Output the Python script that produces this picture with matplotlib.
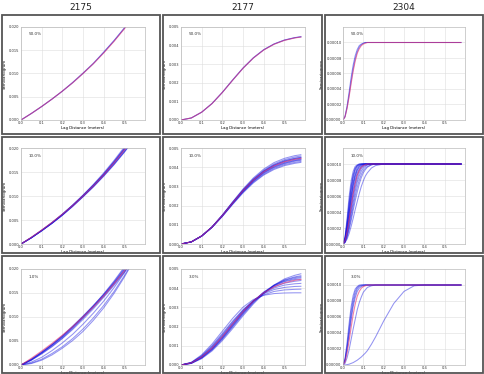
import numpy as np
import matplotlib
matplotlib.use('Agg')
import matplotlib.pyplot as plt
from matplotlib.patches import Rectangle
from matplotlib.ticker import FormatStrFormatter

W, H = 485, 374

wells = ['2175', '2177', '2304']
sample_labels = [['50.0%', '10.0%', '1.0%'],
                 ['50.0%', '10.0%', '3.0%'],
                 ['50.0%', '10.0%', '3.0%']]

# ---- well 2175 (values in 1e-3) ----
lags_2175 = [0, 0.05, 0.1, 0.15, 0.2, 0.25, 0.3, 0.35, 0.4, 0.45, 0.5, 0.55]
ref_2175 = [0, 1.4, 2.9, 4.5, 6.2, 8.0, 10.0, 12.1, 14.4, 16.9, 19.6, 22.5]
fits_2175_50 = [
    [0, 1.4, 2.9, 4.5, 6.2, 8.1, 10.1, 12.2, 14.6, 17.1, 19.8, 22.7],
    [0, 1.4, 2.9, 4.5, 6.2, 8.0, 10.0, 12.1, 14.5, 17.0, 19.7, 22.6],
]
fits_2175_10 = [
    [0, 1.3, 2.8, 4.4, 6.1, 8.0, 10.0, 12.1, 14.4, 16.9, 19.6, 22.5],
    [0, 1.3, 2.8, 4.4, 6.2, 8.1, 10.2, 12.4, 14.8, 17.4, 20.2, 23.2],
    [0, 1.3, 2.8, 4.3, 6.0, 7.9, 9.9, 11.9, 14.1, 16.5, 19.1, 21.9],
    [0, 1.3, 2.8, 4.4, 6.2, 8.1, 10.1, 12.3, 14.6, 17.2, 19.9, 22.9],
    [0, 1.3, 2.7, 4.3, 6.0, 7.9, 9.9, 12.0, 14.3, 16.7, 19.3, 22.1],
    [0, 1.4, 2.9, 4.5, 6.2, 8.1, 10.1, 12.2, 14.5, 17.0, 19.7, 22.6],
    [0, 1.3, 2.8, 4.4, 6.1, 8.0, 10.0, 12.2, 14.5, 17.1, 19.9, 22.8],
    [0, 1.3, 2.8, 4.3, 6.0, 7.8, 9.8, 11.9, 14.2, 16.6, 19.2, 22.0],
]
fits_2175_1 = [
    [0, 1.0, 2.4, 3.9, 5.6, 7.6, 9.8, 12.0, 14.3, 16.8, 19.5, 22.4],
    [0, 1.1, 2.6, 4.2, 6.0, 8.0, 10.1, 12.3, 14.6, 17.1, 19.8, 22.7],
    [0, 1.2, 2.7, 4.3, 6.1, 8.1, 10.2, 12.4, 14.7, 17.3, 20.2, 23.2],
    [0, 1.0, 2.3, 3.8, 5.5, 7.4, 9.5, 11.7, 14.1, 16.6, 19.3, 22.2],
    [0, 1.1, 2.5, 4.1, 5.8, 7.8, 9.9, 12.1, 14.5, 17.1, 19.9, 22.9],
    [0, 1.2, 2.6, 4.2, 5.9, 7.9, 10.0, 12.3, 14.8, 17.5, 20.4, 23.6],
    [0, 0.6, 1.6, 3.0, 4.6, 6.4, 8.5, 10.8, 13.3, 16.1, 19.2, 22.6],
    [0, 0.4, 1.2, 2.4, 3.8, 5.5, 7.5, 9.8, 12.4, 15.3, 18.6, 22.2],
    [0, 0.3, 1.0, 2.1, 3.5, 5.1, 7.0, 9.3, 11.9, 14.9, 18.3, 22.1],
]

# ---- well 2177 (values in 1e-3) ----
lags_2177 = [0, 0.05, 0.1, 0.15, 0.2, 0.25, 0.3, 0.35, 0.4, 0.45, 0.5, 0.55, 0.58]
ref_2177 = [0, 0.11, 0.42, 0.88, 1.48, 2.14, 2.78, 3.33, 3.76, 4.07, 4.28, 4.41, 4.46]
fits_2177_50 = [
    [0, 0.11, 0.42, 0.89, 1.49, 2.16, 2.80, 3.35, 3.78, 4.09, 4.30, 4.43, 4.48],
    [0, 0.11, 0.42, 0.88, 1.48, 2.14, 2.78, 3.33, 3.77, 4.08, 4.29, 4.42, 4.47],
]
fits_2177_10 = [
    [0, 0.11, 0.42, 0.89, 1.51, 2.20, 2.86, 3.44, 3.90, 4.24, 4.46, 4.60, 4.65],
    [0, 0.11, 0.42, 0.89, 1.50, 2.17, 2.82, 3.39, 3.84, 4.17, 4.39, 4.53, 4.58],
    [0, 0.11, 0.42, 0.88, 1.49, 2.16, 2.80, 3.36, 3.80, 4.12, 4.34, 4.47, 4.52],
    [0, 0.11, 0.42, 0.88, 1.48, 2.14, 2.78, 3.33, 3.77, 4.08, 4.29, 4.42, 4.47],
    [0, 0.11, 0.42, 0.88, 1.47, 2.13, 2.76, 3.30, 3.73, 4.04, 4.24, 4.37, 4.42],
    [0, 0.11, 0.41, 0.87, 1.46, 2.11, 2.72, 3.26, 3.68, 3.98, 4.18, 4.31, 4.36],
    [0, 0.11, 0.41, 0.87, 1.45, 2.09, 2.70, 3.22, 3.63, 3.93, 4.13, 4.25, 4.30],
    [0, 0.11, 0.41, 0.86, 1.43, 2.06, 2.66, 3.18, 3.59, 3.88, 4.08, 4.20, 4.25],
    [0, 0.11, 0.42, 0.88, 1.49, 2.15, 2.79, 3.35, 3.79, 4.11, 4.32, 4.45, 4.50],
    [0, 0.11, 0.41, 0.87, 1.46, 2.12, 2.74, 3.28, 3.71, 4.01, 4.21, 4.34, 4.39],
]
fits_2177_3 = [
    [0, 0.14, 0.53, 1.09, 1.76, 2.43, 3.01, 3.41, 3.63, 3.72, 3.75, 3.76, 3.76],
    [0, 0.13, 0.49, 1.01, 1.64, 2.29, 2.88, 3.34, 3.65, 3.83, 3.91, 3.94, 3.95],
    [0, 0.12, 0.46, 0.96, 1.58, 2.24, 2.85, 3.35, 3.71, 3.93, 4.04, 4.09, 4.10],
    [0, 0.12, 0.44, 0.92, 1.53, 2.18, 2.81, 3.34, 3.74, 4.01, 4.16, 4.23, 4.25],
    [0, 0.11, 0.42, 0.88, 1.48, 2.14, 2.78, 3.33, 3.77, 4.07, 4.26, 4.36, 4.40],
    [0, 0.10, 0.39, 0.83, 1.41, 2.06, 2.71, 3.29, 3.77, 4.13, 4.37, 4.50, 4.55],
    [0, 0.09, 0.36, 0.78, 1.34, 1.98, 2.63, 3.23, 3.74, 4.15, 4.43, 4.59, 4.65],
    [0, 0.08, 0.33, 0.73, 1.27, 1.90, 2.56, 3.18, 3.72, 4.16, 4.48, 4.67, 4.75],
    [0, 0.10, 0.40, 0.85, 1.44, 2.10, 2.75, 3.32, 3.80, 4.16, 4.41, 4.55, 4.60],
    [0, 0.09, 0.37, 0.80, 1.37, 2.02, 2.68, 3.28, 3.77, 4.12, 4.34, 4.45, 4.48],
]

# ---- well 2304 (values in 1e-5) ----
lags_2304 = [0, 0.01, 0.02, 0.03, 0.04, 0.05, 0.06, 0.07, 0.08, 0.09, 0.10,
             0.11, 0.12, 0.14, 0.16, 0.18, 0.20, 0.25, 0.30, 0.35, 0.40, 0.58]
ref_2304 = [0, 0.4, 1.5, 3.0, 4.7, 6.3, 7.6, 8.6, 9.2, 9.6, 9.8,
            9.9, 10, 10, 10, 10, 10, 10, 10, 10, 10, 10]
fits_2304_50 = [
    [0, 0.5, 1.8, 3.6, 5.5, 7.1, 8.3, 9.1, 9.6, 9.8, 9.9,
     10, 10, 10, 10, 10, 10, 10, 10, 10, 10, 10],
    [0, 0.4, 1.6, 3.2, 5.0, 6.6, 7.9, 8.8, 9.4, 9.7, 9.9,
     10, 10, 10, 10, 10, 10, 10, 10, 10, 10, 10],
]
fits_2304_10 = [
    [0, 0.9, 3.2, 5.9, 7.9, 9.1, 9.7, 9.9, 10, 10, 10,
     10, 10, 10, 10, 10, 10, 10, 10, 10, 10, 10],
    [0, 0.8, 2.8, 5.2, 7.3, 8.7, 9.5, 9.8, 10, 10, 10,
     10, 10, 10, 10, 10, 10, 10, 10, 10, 10, 10],
    [0, 0.7, 2.4, 4.6, 6.7, 8.2, 9.2, 9.7, 9.9, 10, 10,
     10, 10, 10, 10, 10, 10, 10, 10, 10, 10, 10],
    [0, 0.6, 2.1, 4.1, 6.1, 7.7, 8.8, 9.5, 9.8, 9.9, 10,
     10, 10, 10, 10, 10, 10, 10, 10, 10, 10, 10],
    [0, 0.5, 1.9, 3.7, 5.6, 7.3, 8.4, 9.2, 9.6, 9.8, 9.9,
     10, 10, 10, 10, 10, 10, 10, 10, 10, 10, 10],
    [0, 0.4, 1.7, 3.3, 5.2, 6.8, 8.0, 8.9, 9.4, 9.7, 9.9,
     10, 10, 10, 10, 10, 10, 10, 10, 10, 10, 10],
    [0, 0.4, 1.5, 3.0, 4.7, 6.3, 7.6, 8.6, 9.2, 9.6, 9.8,
     9.9, 10, 10, 10, 10, 10, 10, 10, 10, 10, 10],
    [0, 0.3, 1.3, 2.7, 4.2, 5.8, 7.1, 8.1, 8.9, 9.4, 9.7,
     9.8, 9.9, 10, 10, 10, 10, 10, 10, 10, 10, 10],
    [0, 0.3, 1.1, 2.4, 3.8, 5.2, 6.6, 7.7, 8.5, 9.1, 9.5,
     9.7, 9.9, 10, 10, 10, 10, 10, 10, 10, 10, 10],
    [0, 0.2, 1.0, 2.0, 3.3, 4.7, 6.0, 7.1, 8.0, 8.7, 9.2,
     9.5, 9.7, 9.9, 10, 10, 10, 10, 10, 10, 10, 10],
    [0, 0.2, 0.8, 1.8, 2.9, 4.2, 5.4, 6.5, 7.5, 8.3, 8.9,
     9.3, 9.6, 9.9, 10, 10, 10, 10, 10, 10, 10, 10],
    [0, 0.2, 0.6, 1.3, 2.2, 3.2, 4.3, 5.3, 6.3, 7.2, 7.9,
     8.5, 8.9, 9.5, 9.8, 9.9, 10, 10, 10, 10, 10, 10],
    [0, 0.7, 2.6, 4.9, 7.0, 8.5, 9.4, 9.8, 9.9, 10, 10,
     10, 10, 10, 10, 10, 10, 10, 10, 10, 10, 10],
    [0, 0.5, 2.0, 3.9, 5.9, 7.5, 8.6, 9.3, 9.7, 9.9, 10,
     10, 10, 10, 10, 10, 10, 10, 10, 10, 10, 10],
]
fits_2304_3 = [
    [0, 0.8, 2.8, 5.2, 7.3, 8.7, 9.5, 9.8, 10, 10, 10,
     10, 10, 10, 10, 10, 10, 10, 10, 10, 10, 10],
    [0, 0.7, 2.4, 4.6, 6.7, 8.2, 9.2, 9.7, 9.9, 10, 10,
     10, 10, 10, 10, 10, 10, 10, 10, 10, 10, 10],
    [0, 0.6, 2.1, 4.1, 6.1, 7.7, 8.8, 9.5, 9.8, 9.9, 10,
     10, 10, 10, 10, 10, 10, 10, 10, 10, 10, 10],
    [0, 0.5, 1.9, 3.7, 5.6, 7.3, 8.4, 9.2, 9.6, 9.8, 9.9,
     10, 10, 10, 10, 10, 10, 10, 10, 10, 10, 10],
    [0, 0.2, 0.9, 1.9, 3.2, 4.5, 5.7, 6.9, 7.8, 8.5, 9.1,
     9.4, 9.7, 9.9, 10, 10, 10, 10, 10, 10, 10, 10],
    [0, 0.0, 0.05, 0.1, 0.2, 0.3, 0.45, 0.6, 0.8, 1.0, 1.25,
     1.5, 1.8, 2.6, 3.5, 4.5, 5.5, 7.7, 9.2, 9.9, 10, 10],
]

# layout in pixels (left, right) per column and (top, bottom) per row
col_axes_px = [(21, 145), (181, 305), (343, 465)]
row_axes_px = [(27, 120), (148, 244), (269, 365)]
col_box_px = [(2, 160), (163, 322), (325, 483)]
row_box_px = [(15, 134), (137, 253), (256, 373)]


def px_rect(left, right, top, bottom):
    """ Convert pixel box (from top-left) into figure fraction rect. """
    return [left / W, 1 - bottom / H, (right - left) / W, (bottom - top) / H]


def draw_panel(ax, lags, fits, ref, unit, ymax, yticks, yfmt, label):
    """ Draw the fitted variograms (blue) and the full-data variogram (red). """
    for fit in fits:
        ax.plot(lags, np.array(fit) * unit, color='#1010e0', alpha=0.45, lw=0.75)
    ax.plot(lags, np.array(ref) * unit, color='#e8306a', alpha=0.6, lw=0.8)

    ax.set_xlim(0, 0.6)
    ax.set_ylim(0, ymax)
    ax.set_xticks([0, 0.1, 0.2, 0.3, 0.4, 0.5])
    ax.set_yticks(yticks)
    ax.xaxis.set_major_formatter(FormatStrFormatter('%.1f'))
    ax.yaxis.set_major_formatter(FormatStrFormatter(yfmt))
    ax.tick_params(labelsize=2.6, length=0, pad=1, colors='#333333')
    ax.grid(True, color='#dddddd', lw=0.4)
    ax.set_axisbelow(True)
    for sp in ax.spines.values():
        sp.set_color('#bbbbbb')
        sp.set_linewidth(0.5)
    ax.set_xlabel('Lag Distance (meters)', fontsize=2.8, labelpad=0.5)
    ax.set_ylabel('Semivariogram', fontsize=2.8, labelpad=1.5)
    ax.text(0.06, 0.91, label, transform=ax.transAxes, fontsize=3, color='#333333')


fig = plt.figure(figsize=(W / 100, H / 100), dpi=100)

columns = [
    (lags_2175, [fits_2175_50, fits_2175_10, fits_2175_1], ref_2175, 1e-3,
     0.020, [0, 0.005, 0.010, 0.015, 0.020], '%.3f'),
    (lags_2177, [fits_2177_50, fits_2177_10, fits_2177_3], ref_2177, 1e-3,
     0.005, [0, 0.001, 0.002, 0.003, 0.004, 0.005], '%.3f'),
    (lags_2304, [fits_2304_50, fits_2304_10, fits_2304_3], ref_2304, 1e-5,
     0.00012, [0, 0.00002, 0.00004, 0.00006, 0.00008, 0.00010], '%.5f'),
]

for c, (lags, fit_rows, ref, unit, ymax, yticks, yfmt) in enumerate(columns):
    bl, br = col_box_px[c]
    fig.text((bl + br) / 2 / W, 1 - 8 / H, wells[c], ha='center', va='center',
             fontsize=6.5, color='#222222')
    for r in range(3):
        bt, bb = row_box_px[r]
        fig.add_artist(Rectangle((bl / W, 1 - bb / H), (br - bl) / W, (bb - bt) / H,
                                 transform=fig.transFigure, fill=False,
                                 ec='#555555', lw=1.3))
        al, ar = col_axes_px[c]
        at, ab = row_axes_px[r]
        ax = fig.add_axes(px_rect(al, ar, at, ab))
        draw_panel(ax, lags, fit_rows[r], ref, unit, ymax, yticks, yfmt,
                   sample_labels[c][r])

fig.savefig('out.png', dpi=100)
